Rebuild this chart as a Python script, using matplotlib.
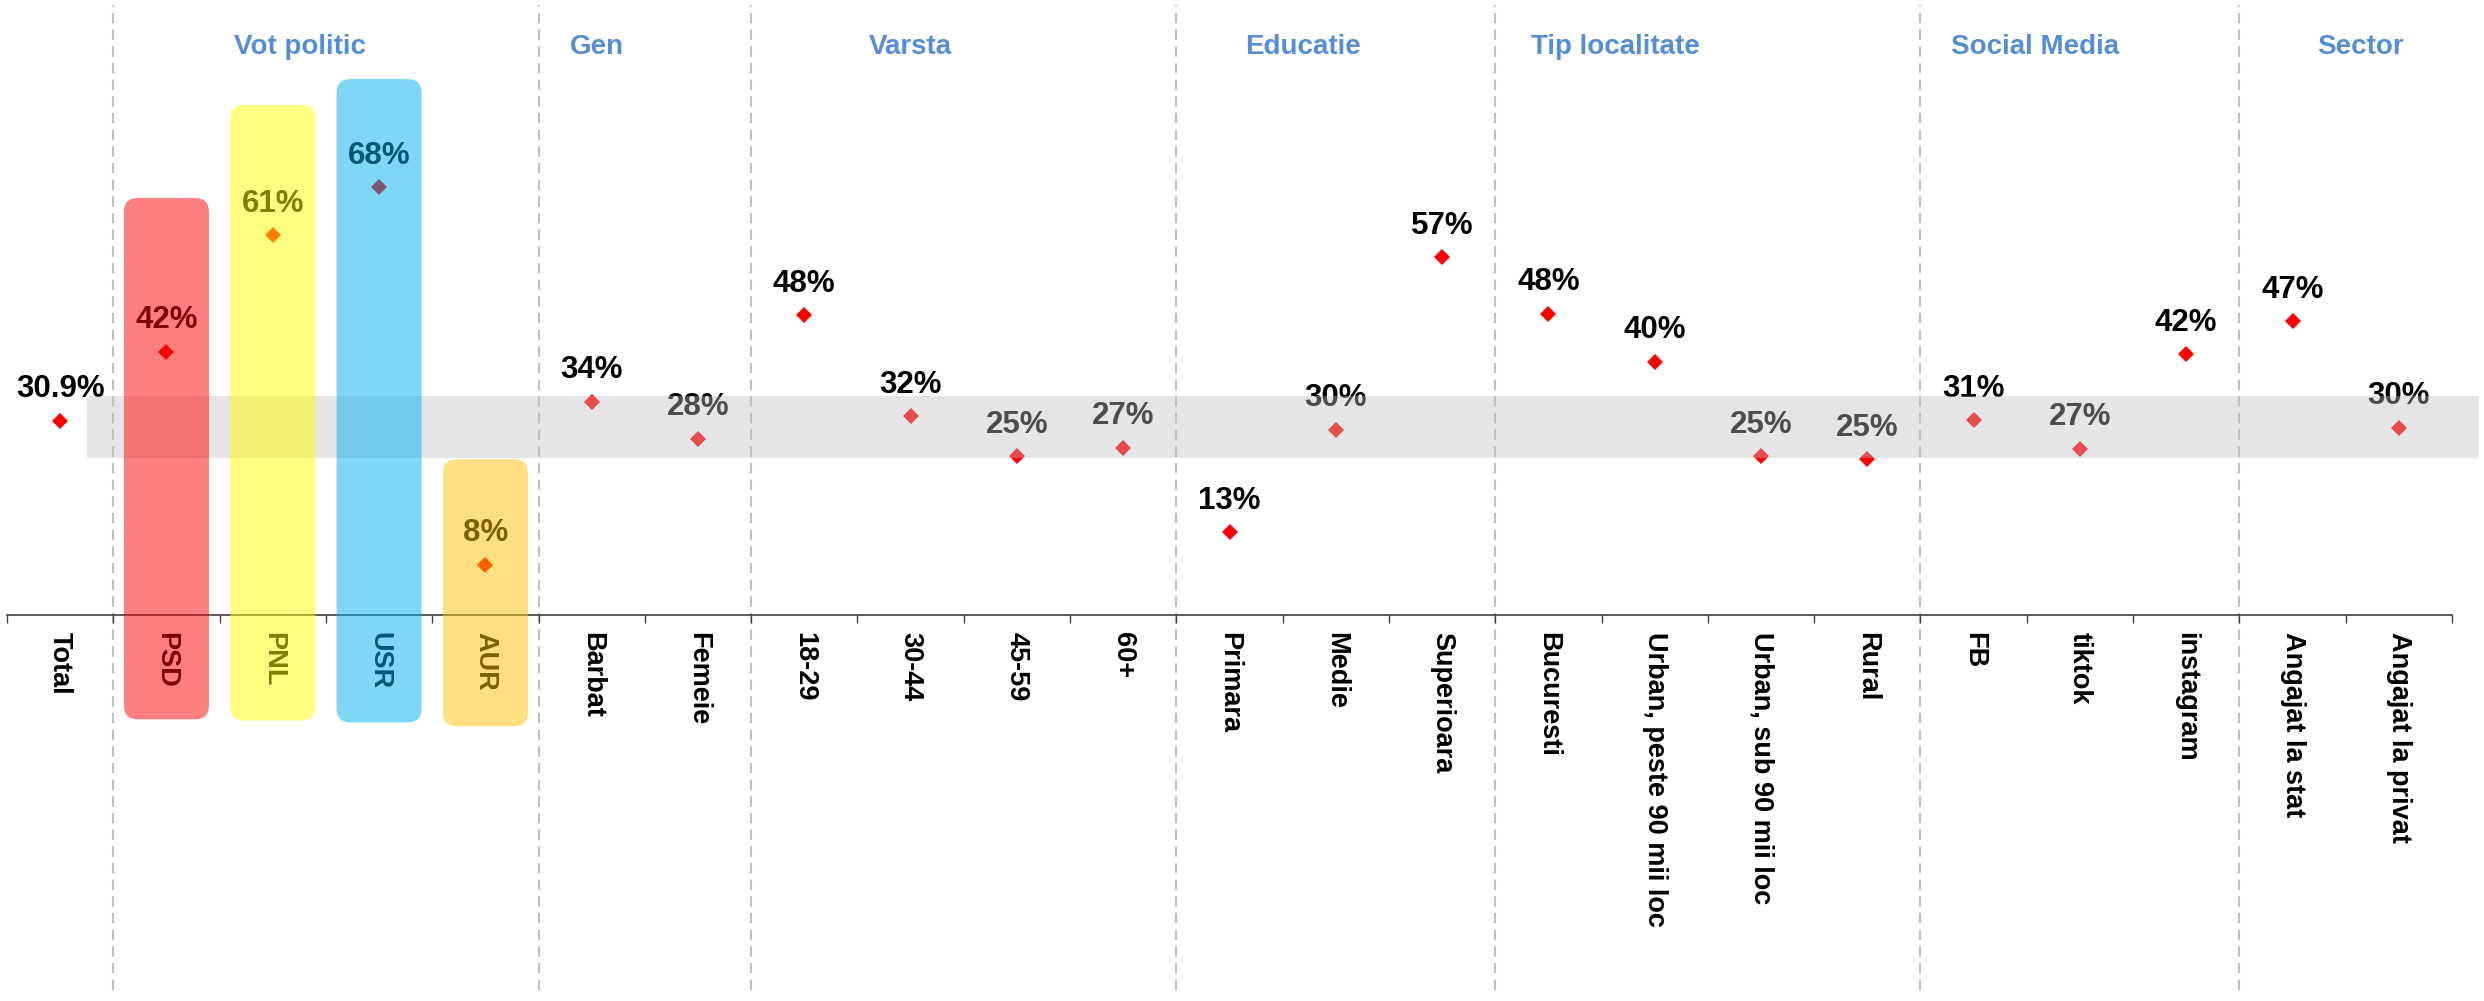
import matplotlib
matplotlib.use("Agg")
import matplotlib.pyplot as plt
import numpy as np
from matplotlib.patches import FancyBboxPatch, Rectangle

plt.rcParams['font.family'] = ['Liberation Sans', 'DejaVu Sans']

categories = ["Total", "PSD", "PNL", "USR", "AUR", "Barbat", "Femeie",
              "18-29", "30-44", "45-59", "60+", "Primara", "Medie", "Superioara",
              "Bucuresti", "Urban, peste 90 mii loc", "Urban, sub 90 mii loc", "Rural",
              "FB", "tiktok", "instagram", "Angajat la stat", "Angajat la privat"]
values = [30.9, 41.9, 60.4, 68.0, 8.0, 33.9, 28.1,
          47.7, 31.6, 25.3, 26.6, 13.2, 29.5, 56.9,
          47.9, 40.3, 25.3, 24.8, 31.0, 26.5, 41.5, 46.7, 29.8]
value_labels = ["30.9%", "42%", "61%", "68%", "8%", "34%", "28%",
                "48%", "32%", "25%", "27%", "13%", "30%", "57%",
                "48%", "40%", "25%", "25%", "31%", "27%", "42%", "47%", "30%"]

groups = ["Vot politic", "Gen", "Varsta", "Educatie", "Tip localitate", "Social Media", "Sector"]
group_start = [1, 5, 7, 11, 14, 18, 21]
group_title_x = [2.26, 5.05, 8.0, 11.69, 14.63, 18.58, 21.64]

parties = ["PSD", "PNL", "USR", "AUR"]
party_colors = ["#FF0000", "#FFFF00", "#00B0F0", "#FFC000"]
party_bar_top = [66.3, 81.1, 85.2, 24.8]
party_bar_bottom = [-16.5, -16.7, -17.0, -17.6]

# grey band around the average
band_low, band_high = 25.0, 34.9

n = len(categories)
W, H = 2484, 1001
fig = plt.figure(figsize=(W / 100, H / 100), dpi=100)
ax = fig.add_axes([0, 0, 1, 1])
xlim = (-0.566, 22.801)
ylim = (-61.25, 97.76)
ax.set_xlim(*xlim)
ax.set_ylim(*ylim)
px_x = W / (xlim[1] - xlim[0])
px_y = H / (ylim[1] - ylim[0])

x = np.arange(n)
ax.plot(x, values, linestyle='none', marker='D', ms=8.3, mew=0, color='#FF0000', zorder=2)
for xi, v, lab in zip(x, values, value_labels):
    ax.annotate(lab, (xi, v), xytext=(0, 17), textcoords='offset points',
                ha='center', va='baseline', fontsize=22.5, fontweight='bold',
                color='black', zorder=2)

ax.add_patch(Rectangle((0.25, band_low), 22.5, band_high - band_low,
                       facecolor='#BFBFBF', alpha=0.4, edgecolor='none', zorder=3))

for p, c, top, bot in zip(parties, party_colors, party_bar_top, party_bar_bottom):
    i = categories.index(p)
    ax.add_patch(FancyBboxPatch((i - 0.4, bot), 0.8, top - bot,
                                boxstyle="round,pad=0,rounding_size=0.13",
                                mutation_aspect=px_x / px_y,
                                facecolor=c, edgecolor='none', alpha=0.5, zorder=4))

for s in group_start:
    ax.vlines(s - 0.5, -59.5, 97, colors='#BFBFBF', linestyles=(0, (5, 3)), lw=1.5, zorder=1)

for g, gx in zip(groups, group_title_x):
    ax.text(gx, 89.2, g, ha='center', va='baseline', fontsize=20,
            fontweight='bold', color='#558ED5')

for side in ['top', 'left', 'right']:
    ax.spines[side].set_visible(False)
ax.spines['bottom'].set_position(('data', 0))
ax.spines['bottom'].set_bounds(-0.5, n - 0.5)
ax.spines['bottom'].set_color('#404040')
ax.spines['bottom'].set_linewidth(1.2)

ax.set_xticks(x)
ax.set_xticklabels(categories, rotation=-90, fontsize=19.5, fontweight='bold')
ax.set_xticks(np.arange(-0.5, n, 1), minor=True)
ax.tick_params(axis='x', which='major', length=0, pad=12)
ax.tick_params(axis='x', which='minor', length=5.5, width=1, direction='out', color='#404040')
ax.set_yticks([])
ax.patch.set_visible(False)

fig.savefig('out.png', dpi=100)
